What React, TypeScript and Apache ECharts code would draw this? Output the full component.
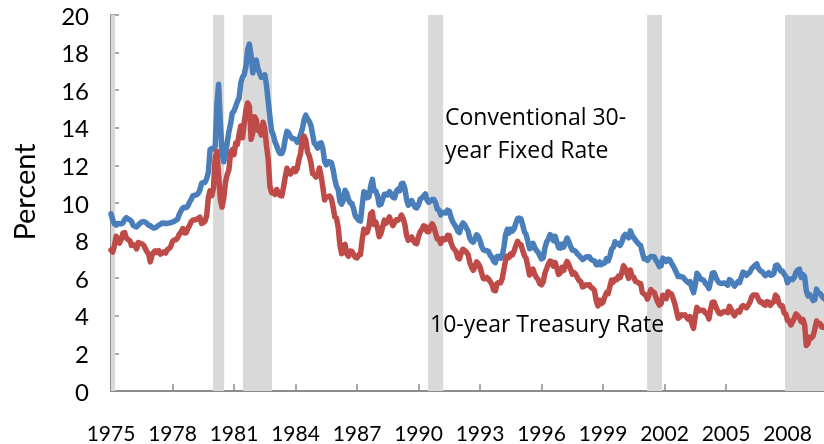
import React, { useEffect, useRef } from "react";
import * as echarts from "echarts";

const startYear = 1975;

// Conventional 30-year fixed mortgage rate, monthly, Jan 1975 - Dec 2009 (percent)
const mortgageRate = [
  9.43, 9.10, 8.89, 8.82, 8.91, 8.89, 8.89, 8.94, 9.13, 9.22, 9.15, 9.10,
  9.02, 8.81, 8.76, 8.73, 8.83, 8.92, 8.99, 9.01, 8.98, 8.92, 8.81, 8.79,
  8.72, 8.67, 8.69, 8.75, 8.83, 8.86, 8.94, 8.94, 8.90, 8.92, 8.93, 8.96,
  8.98, 9.03, 9.08, 9.15, 9.40, 9.59, 9.73, 9.77, 9.75, 9.83, 10.05, 10.20,
  10.39, 10.41, 10.43, 10.50, 10.69, 11.04, 11.09, 11.09, 11.30, 11.64, 12.83, 12.90,
  12.88, 13.04, 15.28, 16.32, 14.26, 12.71, 12.19, 12.59, 13.20, 13.79, 14.21, 14.79,
  14.90, 15.13, 15.40, 15.58, 16.40, 16.70, 16.83, 17.29, 18.16, 18.45, 17.83, 16.92,
  17.40, 17.60, 17.16, 16.89, 16.68, 16.70, 16.82, 16.27, 15.43, 14.61, 13.82, 13.62,
  13.25, 13.04, 12.78, 12.63, 12.63, 12.87, 13.42, 13.81, 13.73, 13.54, 13.44, 13.42,
  13.37, 13.23, 13.39, 13.65, 13.94, 14.42, 14.67, 14.47, 14.35, 14.13, 13.64, 13.18,
  13.08, 12.92, 13.17, 13.20, 12.91, 12.22, 12.03, 12.19, 12.19, 12.14, 11.78, 11.26,
  10.88, 10.71, 10.08, 9.94, 10.14, 10.68, 10.51, 10.20, 10.01, 9.98, 9.70, 9.32,
  9.20, 9.08, 9.04, 9.83, 10.60, 10.54, 10.28, 10.33, 10.89, 11.26, 10.65, 10.64,
  10.38, 9.89, 9.93, 10.20, 10.46, 10.46, 10.43, 10.60, 10.48, 10.30, 10.27, 10.61,
  10.73, 10.65, 11.03, 11.05, 10.77, 10.20, 9.88, 9.99, 10.13, 9.95, 9.77, 9.74,
  9.90, 10.20, 10.27, 10.37, 10.48, 10.16, 10.04, 10.10, 10.18, 10.18, 10.01, 9.67,
  9.64, 9.37, 9.50, 9.49, 9.47, 9.62, 9.58, 9.24, 9.01, 8.86, 8.71, 8.50,
  8.43, 8.76, 8.94, 8.85, 8.67, 8.51, 8.13, 7.98, 7.92, 8.09, 8.31, 8.22,
  7.99, 7.68, 7.50, 7.47, 7.47, 7.42, 7.21, 7.11, 6.91, 6.83, 7.16, 7.17,
  7.06, 7.15, 7.68, 8.32, 8.60, 8.40, 8.61, 8.51, 8.64, 8.93, 9.17, 9.20,
  9.15, 8.83, 8.46, 8.32, 7.96, 7.57, 7.61, 7.86, 7.64, 7.48, 7.38, 7.20,
  7.03, 7.08, 7.62, 7.93, 8.07, 8.32, 8.25, 8.00, 8.23, 7.92, 7.62, 7.60,
  7.82, 7.65, 7.90, 8.14, 7.94, 7.69, 7.50, 7.48, 7.43, 7.29, 7.21, 7.10,
  6.99, 7.04, 7.13, 7.14, 7.14, 7.00, 6.95, 6.92, 6.72, 6.71, 6.87, 6.72,
  6.79, 6.81, 7.04, 6.92, 7.15, 7.55, 7.63, 7.94, 7.82, 7.85, 7.74, 7.91,
  8.21, 8.33, 8.24, 8.15, 8.52, 8.29, 8.15, 8.03, 7.91, 7.80, 7.75, 7.38,
  7.03, 7.05, 6.95, 7.08, 7.15, 7.16, 7.13, 6.95, 6.82, 6.62, 6.66, 7.07,
  7.00, 6.89, 7.01, 6.99, 6.81, 6.65, 6.49, 6.29, 6.09, 6.11, 6.07, 6.05,
  5.92, 5.84, 5.75, 5.81, 5.48, 5.23, 5.63, 6.26, 6.15, 5.95, 5.93, 5.88,
  5.71, 5.64, 5.45, 5.83, 6.27, 6.29, 6.06, 5.87, 5.75, 5.72, 5.73, 5.75,
  5.71, 5.63, 5.93, 5.86, 5.72, 5.58, 5.70, 5.82, 5.77, 6.07, 6.33, 6.27,
  6.15, 6.25, 6.32, 6.51, 6.60, 6.68, 6.76, 6.52, 6.40, 6.36, 6.24, 6.14,
  6.22, 6.29, 6.16, 6.18, 6.26, 6.66, 6.70, 6.57, 6.38, 6.38, 6.21, 6.10,
  5.76, 5.92, 5.97, 5.92, 6.04, 6.32, 6.43, 6.48, 6.04, 6.20, 6.09, 5.33,
  5.06, 5.13, 5.00, 4.81, 4.86, 5.42, 5.22, 5.19, 5.06, 4.95, 4.88, 4.93,
];

// 10-year Treasury rate, monthly, Jan 1975 - Dec 2009 (percent)
const treasuryRate = [
  7.50, 7.39, 7.73, 8.23, 8.06, 7.86, 8.06, 8.40, 8.43, 8.14, 8.05, 8.00,
  7.74, 7.79, 7.73, 7.56, 7.90, 7.86, 7.83, 7.77, 7.59, 7.41, 7.29, 6.87,
  7.21, 7.39, 7.46, 7.37, 7.46, 7.28, 7.33, 7.40, 7.34, 7.52, 7.58, 7.69,
  7.96, 8.03, 8.04, 8.15, 8.35, 8.46, 8.64, 8.41, 8.42, 8.64, 8.81, 9.01,
  9.10, 9.10, 9.12, 9.18, 9.25, 8.91, 8.95, 9.03, 9.33, 10.30, 10.65, 10.39,
  10.80, 12.41, 12.75, 11.47, 10.18, 9.78, 10.25, 11.10, 11.51, 11.75, 12.68, 12.84,
  12.57, 13.19, 13.12, 13.68, 14.10, 13.47, 14.28, 14.94, 15.32, 15.15, 13.39, 13.72,
  14.59, 14.43, 13.86, 13.87, 13.62, 14.30, 13.95, 13.06, 12.34, 10.91, 10.55, 10.54,
  10.46, 10.72, 10.51, 10.40, 10.38, 10.85, 11.38, 11.85, 11.65, 11.54, 11.69, 11.83,
  11.67, 11.84, 12.32, 12.63, 13.41, 13.56, 13.36, 12.72, 12.52, 12.16, 11.57, 11.50,
  11.38, 11.51, 11.86, 11.43, 10.85, 10.16, 10.31, 10.33, 10.37, 10.24, 9.78, 9.26,
  9.19, 8.70, 7.78, 7.30, 7.71, 7.80, 7.30, 7.17, 7.45, 7.43, 7.25, 7.11,
  7.08, 7.25, 7.25, 8.02, 8.61, 8.40, 8.45, 8.76, 9.42, 9.52, 8.86, 8.99,
  8.67, 8.21, 8.37, 8.72, 9.09, 8.92, 9.06, 9.26, 8.98, 8.80, 8.96, 9.11,
  9.09, 9.17, 9.36, 9.18, 8.86, 8.28, 8.02, 8.11, 8.19, 8.01, 7.87, 7.84,
  8.21, 8.47, 8.59, 8.79, 8.76, 8.48, 8.47, 8.75, 8.89, 8.72, 8.39, 8.08,
  8.09, 7.85, 8.11, 8.04, 8.07, 8.28, 8.27, 7.90, 7.65, 7.53, 7.42, 7.09,
  7.03, 7.34, 7.54, 7.48, 7.39, 7.26, 6.84, 6.59, 6.42, 6.59, 6.87, 6.77,
  6.60, 6.26, 5.98, 5.97, 6.04, 5.96, 5.81, 5.68, 5.36, 5.33, 5.72, 5.77,
  5.75, 5.97, 6.48, 6.97, 7.18, 7.10, 7.30, 7.24, 7.46, 7.74, 7.96, 7.81,
  7.78, 7.47, 7.20, 7.06, 6.63, 6.17, 6.28, 6.49, 6.20, 6.04, 5.93, 5.71,
  5.65, 5.81, 6.27, 6.51, 6.74, 6.91, 6.87, 6.64, 6.83, 6.53, 6.20, 6.30,
  6.58, 6.42, 6.69, 6.89, 6.71, 6.49, 6.22, 6.30, 6.21, 6.03, 5.88, 5.81,
  5.54, 5.57, 5.65, 5.64, 5.65, 5.50, 5.46, 5.34, 4.81, 4.53, 4.83, 4.65,
  4.72, 5.00, 5.23, 5.18, 5.54, 5.90, 5.79, 5.94, 5.92, 6.11, 6.03, 6.28,
  6.66, 6.52, 6.26, 5.99, 6.44, 6.10, 6.05, 5.83, 5.80, 5.74, 5.72, 5.24,
  5.16, 5.10, 4.89, 5.14, 5.39, 5.28, 5.24, 4.97, 4.73, 4.57, 4.65, 5.09,
  5.04, 4.91, 5.28, 5.21, 5.16, 4.93, 4.65, 4.26, 3.87, 3.94, 4.05, 4.03,
  4.05, 3.90, 3.81, 3.96, 3.57, 3.33, 3.98, 4.45, 4.27, 4.29, 4.30, 4.27,
  4.15, 4.08, 3.83, 4.35, 4.72, 4.73, 4.50, 4.28, 4.13, 4.10, 4.19, 4.23,
  4.22, 4.17, 4.50, 4.34, 4.14, 4.00, 4.18, 4.26, 4.20, 4.46, 4.54, 4.47,
  4.42, 4.57, 4.72, 4.99, 5.11, 5.11, 5.09, 4.88, 4.72, 4.73, 4.60, 4.56,
  4.76, 4.72, 4.56, 4.69, 4.75, 5.10, 5.00, 4.67, 4.52, 4.53, 4.15, 4.10,
  3.74, 3.74, 3.51, 3.68, 3.88, 4.10, 4.01, 3.89, 3.69, 3.81, 3.53, 2.42,
  2.52, 2.87, 2.82, 2.93, 3.29, 3.72, 3.56, 3.59, 3.40, 3.39, 3.40, 3.59,
];

// Recession periods (decimal years)
const recessionStarts = [1975.0, 1979.98, 1981.44, 1990.46, 2001.15, 2007.88];
const recessionEnds = [1975.2, 1980.52, 1982.85, 1991.2, 2001.88, 2009.9];

const axisEnd = 2009.78;
const tickStep = 3;
const yMax = 20;
const yStep = 2;

const mortgageLabelLines = ["Conventional 30-", "year Fixed Rate"];
const treasuryLabel = "10-year Treasury Rate";
const yAxisTitle = "Percent";

const FONT = "Lato, 'DejaVu Sans', sans-serif";
const NOTE_FONT = "'Open Sans', Lato, sans-serif";

export default function App() {
  const ref = useRef<HTMLDivElement>(null);

  useEffect(() => {
    if (!ref.current) return;
    document.body.style.margin = "0";
    document.body.style.overflow = "hidden";
    const chart = echarts.init(ref.current, undefined, { renderer: "svg" });

    const toPoints = (arr: number[]) => arr.map((v, i) => [i / 12, v]);

    const option: any = {
      animation: false,
      grid: { left: 111, right: 0, top: 15, bottom: 53, containLabel: false },
      xAxis: {
        type: "value",
        min: 0,
        max: axisEnd - startYear,
        interval: tickStep,
        axisLine: { show: true, lineStyle: { color: "#8c8c8c", width: 2 } },
        axisTick: { show: true, inside: true, length: 7, lineStyle: { color: "#8c8c8c", width: 1.5 } },
        splitLine: { show: false },
        axisLabel: {
          showMaxLabel: false,
          margin: 31,
          color: "#000",
          fontFamily: FONT,
          fontSize: 21,
          lineHeight: 21,
          formatter: (v: number) => String(startYear + Math.round(v)),
        },
      },
      yAxis: {
        type: "value",
        min: 0,
        max: yMax,
        interval: yStep,
        axisLine: { show: true, lineStyle: { color: "#8c8c8c", width: 2 } },
        axisTick: { show: true, inside: true, length: 8, lineStyle: { color: "#8c8c8c", width: 1.5 } },
        splitLine: { show: false },
        axisLabel: { margin: 22, color: "#000", fontFamily: FONT, fontSize: 24 },
      },
      series: [
        {
          type: "line",
          data: [],
          silent: true,
          z: 1,
          markArea: {
            silent: true,
            itemStyle: { color: "#d9d9d9" },
            data: recessionStarts.map((s, i) => [
              { xAxis: s - startYear },
              { xAxis: Math.min(recessionEnds[i], axisEnd) - startYear },
            ]),
          },
        },
        {
          name: "Conventional 30-year Fixed Rate",
          type: "line",
          z: 3,
          data: toPoints(mortgageRate),
          showSymbol: false,
          symbol: "none",
          lineStyle: { color: "#4a7ebb", width: 5.5, join: "round", cap: "round" },
          itemStyle: { color: "#4a7ebb" },
        },
        {
          name: "10-year Treasury Rate",
          type: "line",
          z: 3,
          data: toPoints(treasuryRate),
          showSymbol: false,
          symbol: "none",
          lineStyle: { color: "#be4b48", width: 5.5, join: "round", cap: "round" },
          itemStyle: { color: "#be4b48" },
        },
      ],
      graphic: [
        {
          type: "text",
          x: 23,
          y: 192,
          z: 100,
          rotation: Math.PI / 2,
          style: {
            text: yAxisTitle,
            fontFamily: FONT,
            fontSize: 29,
            fill: "#000",
            align: "center",
            verticalAlign: "middle",
          },
        },
        {
          type: "text",
          x: 445,
          y: 116,
          z: 100,
          style: {
            text: mortgageLabelLines[0],
            fontFamily: NOTE_FONT,
            fontSize: 23,
            fill: "#000",
            align: "left",
            verticalAlign: "middle",
          },
        },
        {
          type: "text",
          x: 445,
          y: 149,
          z: 100,
          style: {
            text: mortgageLabelLines[1],
            fontFamily: NOTE_FONT,
            fontSize: 23,
            fill: "#000",
            align: "left",
            verticalAlign: "middle",
          },
        },
        {
          type: "text",
          x: 430,
          y: 323,
          z: 100,
          style: {
            text: treasuryLabel,
            fontFamily: NOTE_FONT,
            fontSize: 23,
            fill: "#000",
            align: "left",
            verticalAlign: "middle",
          },
        },
      ],
    };

    chart.setOption(option);
    return () => chart.dispose();
  }, []);

  return (
    <div
      ref={ref}
      style={{ position: "fixed", left: 0, top: 0, width: 824, height: 444 }}
    />
  );
}
